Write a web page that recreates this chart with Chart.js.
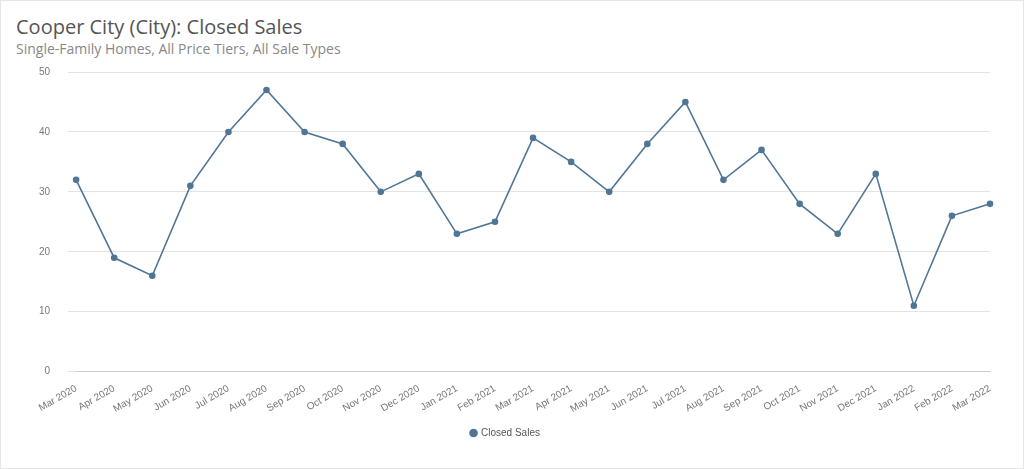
<!DOCTYPE html>
<html>
<head>
<meta charset="utf-8">
<script src="https://cdn.jsdelivr.net/npm/chart.js@4"></script>
<style>
  body { margin: 0; background: #fff; font-family: "Open Sans", sans-serif; }
  #wrap { position: absolute; left: 0; top: 0; width: 1022px; height: 467px; border: 1px solid #e6e6e6; }
  #title { position: absolute; left: 15px; top: 12px; font-size: 20px; color: #555; }
  #sub { position: absolute; left: 15px; top: 38px; font-size: 14px; color: #888; }
  #box { position: absolute; left: 20px; top: 47px; width: 1000px; height: 400px; }
</style>
</head>
<body>
<div id="wrap">
  <div id="title">Cooper City (City): Closed Sales</div>
  <div id="sub">Single-Family Homes, All Price Tiers, All Sale Types</div>
  <div id="box"><canvas id="chart"></canvas></div>
</div>
<script>
// months along the x axis
let months = ['Mar 2020', 'Apr 2020', 'May 2020', 'Jun 2020', 'Jul 2020', 'Aug 2020', 'Sep 2020',
  'Oct 2020', 'Nov 2020', 'Dec 2020', 'Jan 2021', 'Feb 2021', 'Mar 2021', 'Apr 2021', 'May 2021',
  'Jun 2021', 'Jul 2021', 'Aug 2021', 'Sep 2021', 'Oct 2021', 'Nov 2021', 'Dec 2021', 'Jan 2022',
  'Feb 2022', 'Mar 2022'];
let closedSales = [32, 19, 16, 31, 40, 47, 40, 38, 30, 33, 23, 25, 39, 35, 30, 38, 45, 32, 37, 28, 23, 33, 11, 26, 28];

let ctx = document.getElementById('chart').getContext('2d');

new Chart(ctx, {
  type: 'line',
  data: {
    labels: months,
    datasets: [{
      label: 'Closed Sales',
      data: closedSales,
      borderColor: '#4f7696',
      backgroundColor: '#4f7696',
      borderWidth: 1.6,
      pointRadius: 2.5,
      tension: 0
    }]
  },
  options: {
    responsive: true,
    maintainAspectRatio: false,
    animation: false,
    layout: { padding: { right: 31 } },
    plugins: {
      legend: {
        position: 'bottom',
        labels: { usePointStyle: true, boxWidth: 5, boxHeight: 5, color: '#555', font: { size: 10 } }
      }
    },
    scales: {
      x: {
        offset: false,
        grid: { display: false },
        ticks: { color: '#777', font: { size: 10 }, maxRotation: 30, minRotation: 30 }
      },
      y: {
        min: 0,
        max: 50,
        ticks: { stepSize: 10, color: '#777', font: { size: 10 }, padding: 18 },
        border: { display: false },
        grid: { color: '#e3e3e3' }
      }
    }
  }
});
</script>
</body>
</html>
